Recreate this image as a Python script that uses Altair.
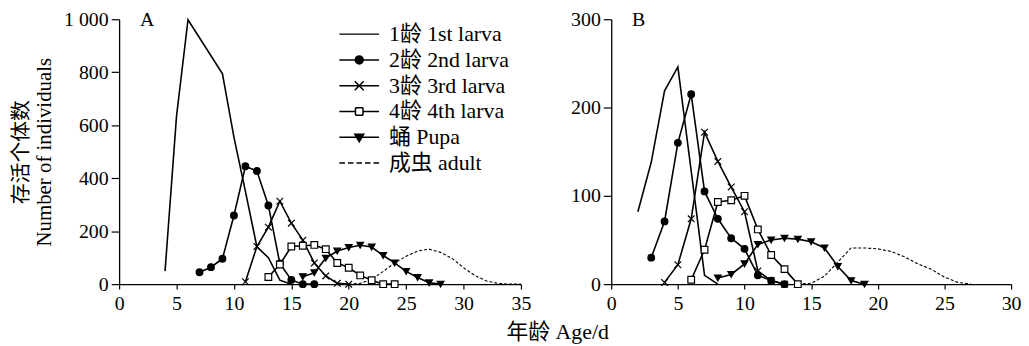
import altair as alt
import pandas as pd

STAGES = ["1龄 1st larva", "2龄 2nd larva", "3龄 3rd larva", "4龄 4th larva", "蛹 Pupa", "成虫 adult"]
MARKED = ["2龄 2nd larva", "3龄 3rd larva", "4龄 4th larva", "蛹 Pupa"]
ADULT = "成虫 adult"

# ---- Panel A data (day, number of individuals) ----
A_L1_DAY = [4, 5, 6, 7, 8, 9, 10, 11, 12, 13, 14, 15]
A_L1_VAL = [49, 634, 998, 930, 862, 794, 555, 350, 141, 100, 15, 0]
A_L2_DAY = [7, 8, 9, 10, 11, 12, 13, 14, 15, 16, 17]
A_L2_VAL = [45, 64, 96, 259, 445, 427, 297, 78, 16, 0, 0]
A_L3_DAY = [11, 12, 13, 14, 15, 16, 17, 18, 19, 20]
A_L3_VAL = [9, 142, 215, 313, 230, 166, 80, 31, 3, 0]
A_L4_DAY = [13, 14, 15, 16, 17, 18, 19, 20, 21, 22, 23, 24]
A_L4_VAL = [27, 74, 142, 145, 148, 132, 80, 62, 33, 15, 0, 0]
A_PU_DAY = [16, 17, 18, 19, 20, 21, 22, 23, 24, 25, 26, 27, 28]
A_PU_VAL = [28, 43, 98, 125, 138, 147, 140, 108, 80, 48, 25, 5, 0]
A_AD_DAY = [20, 21, 22, 23, 24, 25, 26, 27, 28, 29, 30, 31, 32, 33, 34, 35]
A_AD_VAL = [0, 3, 18, 48, 80, 105, 125, 132, 120, 97, 62, 32, 12, 3, 0, 0]

# ---- Panel B data ----
B_L1_DAY = [2, 3, 4, 5, 6, 7, 8]
B_L1_VAL = [82, 138, 219, 246, 128, 10, 0]
B_L2_DAY = [3, 4, 5, 6, 7, 8, 9, 10, 11, 12, 13]
B_L2_VAL = [30, 71, 160, 215, 105, 74, 52, 40, 10, 4, 0]
B_L3_DAY = [4, 5, 6, 7, 8, 9, 10, 11, 12, 13]
B_L3_VAL = [2, 22, 74, 172, 139, 110, 82, 15, 4, 0]
B_L4_DAY = [6, 7, 8, 9, 10, 11, 12, 13, 14]
B_L4_VAL = [5, 39, 93, 95, 100, 62, 33, 17, 0]
B_PU_DAY = [8, 9, 10, 11, 12, 13, 14, 15, 16, 17, 18, 19]
B_PU_VAL = [7, 11, 23, 45, 50, 52, 51, 48, 41, 20, 4, 0]
B_AD_DAY = [14, 15, 16, 17, 18, 19, 20, 21, 22, 23, 24, 25, 26, 27]
B_AD_VAL = [0, 1, 9, 25, 41, 41, 40, 37, 31, 23, 17, 8, 2, 0]

A_XTICKS = [0, 5, 10, 15, 20, 25, 30, 35]
A_YTICKS = [0, 200, 400, 600, 800, 1000]
B_XTICKS = [0, 5, 10, 15, 20, 25, 30]
B_YTICKS = [0, 100, 200, 300]


def build(series):
    rows = []
    for stage, days, vals in series:
        for d, v in zip(days, vals):
            rows.append({"stage": stage, "day": d, "value": v})
    return pd.DataFrame(rows)


dfA = build([
    (STAGES[0], A_L1_DAY, A_L1_VAL), (STAGES[1], A_L2_DAY, A_L2_VAL),
    (STAGES[2], A_L3_DAY, A_L3_VAL), (STAGES[3], A_L4_DAY, A_L4_VAL),
    (STAGES[4], A_PU_DAY, A_PU_VAL), (STAGES[5], A_AD_DAY, A_AD_VAL),
])
dfB = build([
    (STAGES[0], B_L1_DAY, B_L1_VAL), (STAGES[1], B_L2_DAY, B_L2_VAL),
    (STAGES[2], B_L3_DAY, B_L3_VAL), (STAGES[3], B_L4_DAY, B_L4_VAL),
    (STAGES[4], B_PU_DAY, B_PU_VAL), (STAGES[5], B_AD_DAY, B_AD_VAL),
])

FONT = "Liberation Serif, Times New Roman, Noto Sans CJK SC"

shape_scale = alt.Scale(domain=STAGES, range=["circle", "circle", "M-1,-1L1,1M-1,1L1,-1",
                                              "square", "triangle-down", "circle"])
fill_scale = alt.Scale(domain=STAGES, range=["black", "black", "black", "white", "black", "black"])

# legend symbols: a 40px line with the series marker (unit = 10px at symbolSize 400)
LEGEND_PATHS = [
    "M-2,0H2",
    "M-2,0H2M-0.4,0A0.4,0.4 0 1,1 0.4,0A0.4,0.4 0 1,1 -0.4,0Z",
    "M-2,0H2M-0.45,-0.45L0.45,0.45M-0.45,0.45L0.45,-0.45",
    "M-2,0H-0.38M0.38,0H2M-0.38,-0.38H0.38M0.38,-0.38V0.38M0.38,0.38H-0.38M-0.38,0.38V-0.38",
    "M-2,0H2M-0.45,-0.3H0.45L0,0.45Z",
    "M-2,0H-1.44M-1.14,0H-0.58M-0.28,0H0.28M0.58,0H1.14M1.44,0H2",
]
legend_shape_scale = alt.Scale(domain=STAGES, range=LEGEND_PATHS)
legend_black_scale = alt.Scale(domain=STAGES, range=["black"] * 6)

legendA = alt.Legend(
    title=None, orient="none", legendX=231, legendY=4, padding=0,
    labelFont=FONT, labelFontSize=22, labelColor="black", labelLimit=400,
    symbolSize=400, labelOffset=19, rowPadding=4,
    symbolStrokeWidth=1.5, symbolOpacity=1,
)


def panel(df, xmax, xticks, ymax, yticks, width, label, with_legend, ytitle):
    base = alt.Chart(df)
    yaxis_kw = dict(values=yticks, labelFlush=False, labelOverlap=False)
    if ymax == 1000:
        yaxis_kw["labelExpr"] = "datum.value == 1000 ? '1 000' : datum.label"
    yaxis_kw["title"] = ytitle
    x = alt.X("day:Q", scale=alt.Scale(domain=[0, xmax], nice=False),
              axis=alt.Axis(values=xticks, title=None, labelFlush=False, labelOverlap=False))
    y = alt.Y("value:Q", scale=alt.Scale(domain=[0, ymax], nice=False),
              axis=alt.Axis(**yaxis_kw))
    solid = base.transform_filter(alt.datum.stage != ADULT).mark_line(
        color="black", strokeWidth=1.6).encode(x=x, y=y, detail="stage:N")
    dashed = base.transform_filter(alt.datum.stage == ADULT).mark_line(
        color="black", strokeWidth=1.1, strokeDash=[3, 2]).encode(x=x, y=y)
    pts = base.transform_filter(alt.FieldOneOfPredicate(field="stage", oneOf=MARKED)).mark_point(
        filled=True, stroke="black", strokeWidth=1.2, opacity=1, size=45).encode(
        x=x, y=y,
        shape=alt.Shape("stage:N", scale=shape_scale, legend=None),
        fill=alt.Fill("stage:N", scale=fill_scale, legend=None),
    )
    layers = [solid, dashed, pts]
    if with_legend:
        leg = base.transform_filter("false").mark_point(
            filled=True, strokeWidth=1.5, opacity=1).encode(
            x=x, y=y,
            shape=alt.Shape("stage:N", scale=legend_shape_scale, legend=legendA),
            fill=alt.Fill("stage:N", scale=legend_black_scale, legend=legendA),
            stroke=alt.Stroke("stage:N", scale=legend_black_scale, legend=legendA),
        )
        layers.append(leg)
    lay = alt.layer(*layers)
    if with_legend:
        lay = lay.resolve_scale(shape="independent", fill="independent", stroke="independent")
    return lay.properties(
        width=width, height=267,
        title=alt.TitleParams(label, anchor="start", frame="group", orient="top",
                              offset=-21, dx=21, font=FONT, fontSize=20,
                              fontWeight="normal", color="black"),
    )


pA = panel(dfA, 35, A_XTICKS, 1000, A_YTICKS, 405, "A", True,
           ["存活个体数", "Number of individuals"])
pB = panel(dfB, 30, B_XTICKS, 300, B_YTICKS, 403, "B", False, None)

chart = alt.hconcat(pA, pB, spacing=40).resolve_scale(
    shape="independent", fill="independent", stroke="independent",
    x="independent", y="independent"
).properties(
    padding={"left": 3, "top": 0, "right": 0, "bottom": 0},
    title=alt.TitleParams("年龄 Age/d", orient="bottom", anchor="middle", dx=42, offset=8,
                          font=FONT, fontSize=22, fontWeight="normal", color="black"),
).configure_view(stroke=None).configure_axis(
    grid=False, domainColor="black", domainWidth=1.3, tickColor="black", tickWidth=1.2,
    labelColor="black", labelFont=FONT, labelFontSize=20, titleFont=FONT, titleFontSize=21,
    titleColor="black", titleFontWeight="normal",
).configure_axisY(
    tickSize=8, labelPadding=3, titlePadding=9, titleLineHeight=23,
).configure_axisX(
    tickSize=5, labelPadding=5,
)

chart.save("out.html", embed_options={"renderer": "svg", "actions": False})
